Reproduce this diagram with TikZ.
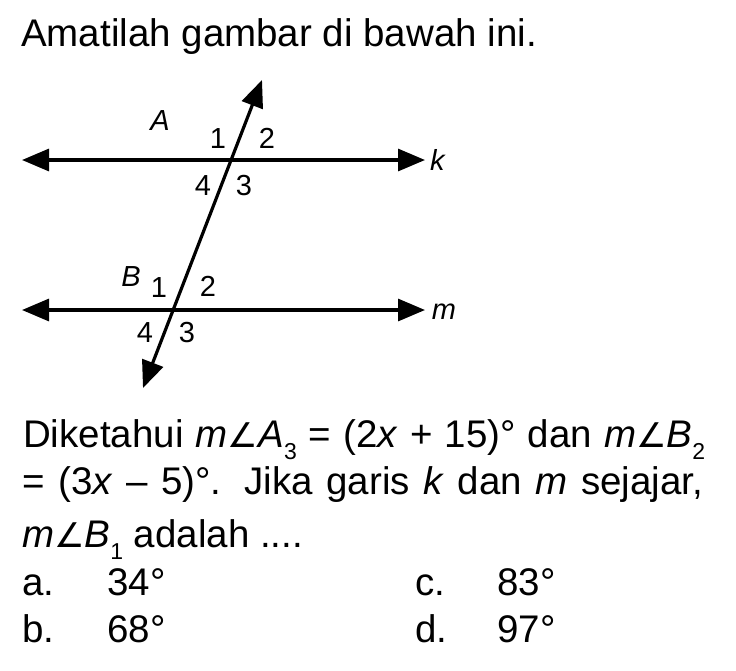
\documentclass[tikz,border=0pt]{standalone}
\usepackage{fontspec}
\setmainfont{Liberation Sans}
\newfontfamily\dejavu{DejaVu Sans}
\usetikzlibrary{arrows.meta}
\newcommand{\angsym}{{\dejavu\fontsize{34}{34}\selectfont ∠}}
\newcommand{\mysub}[1]{\raisebox{-12pt}{\fontsize{23}{23}\selectfont #1}}
\begin{document}
\begin{tikzpicture}[x=1pt,y=-1pt,
  ray/.style={line width=3.2pt, {Triangle[length=27pt,width=22pt]}-{Triangle[length=27pt,width=22pt]}},
  lbl/.style={font=\fontsize{29}{29}\selectfont, inner sep=0pt},
  txt/.style={font=\fontsize{38.5}{38.5}\selectfont, inner sep=0pt, anchor=base west}]
\useasboundingbox (0,0) rectangle (736,670);
\fill[white] (0,0) rectangle (736,670);

% heading
\node[txt] (head) at (21,46) {Amatilah gambar di bawah ini.};

% diagram
\coordinate (kL) at (22,160);
\coordinate (kR) at (425,160);
\coordinate (mL) at (22,310);
\coordinate (mR) at (425,310);
\coordinate (tT) at (262,80);
\coordinate (tB) at (143,388);
\draw[ray] (kL) -- (kR);
\draw[ray] (mL) -- (mR);
\draw[ray] (tB) -- (tT);

\node[lbl] (k) at (438,160) {\textit{k}};
\node[lbl] (m) at (444,312) {\textit{m}};
\node[lbl] (A) at (160,121) {\textit{A}};
\node[lbl] (a1) at (218,139) {1};
\node[lbl] (a2) at (267,138) {2};
\node[lbl] (a4) at (203,186) {4};
\node[lbl] (a3) at (244,186) {3};
\node[lbl] (B) at (131,277) {\textit{B}};
\node[lbl] (b1) at (159,288) {1};
\node[lbl] (b2) at (208,286) {2};
\node[lbl] (b4) at (145,333) {4};
\node[lbl] (b3) at (187,333) {3};

% question text
\node[txt] (l1) at (23,447) {\makebox[682pt][s]{Diketahui \textit{m}\angsym\textit{A}\mysub{3} = (2\textit{x} + 15)° dan \textit{m}\angsym\textit{B}\mysub{2}}};
\node[txt] (l2) at (22,494) {\makebox[681pt][s]{= (3\textit{x} – 5)°. Jika garis \textit{k} dan \textit{m} sejajar,}};
\node[txt] (l3) at (22,547) {\textit{m}\angsym\textit{B}\mysub{1} adalah ....};

% options
\node[txt] (oa) at (22,595) {a.};
\node[txt] (va) at (107,595) {34°};
\node[txt] (ob) at (22,642) {b.};
\node[txt] (vb) at (107,642) {68°};
\node[txt] (oc) at (415,595) {c.};
\node[txt] (vc) at (497,595) {83°};
\node[txt] (od) at (415,642) {d.};
\node[txt] (vd) at (497,642) {97°};
\end{tikzpicture}
\end{document}
